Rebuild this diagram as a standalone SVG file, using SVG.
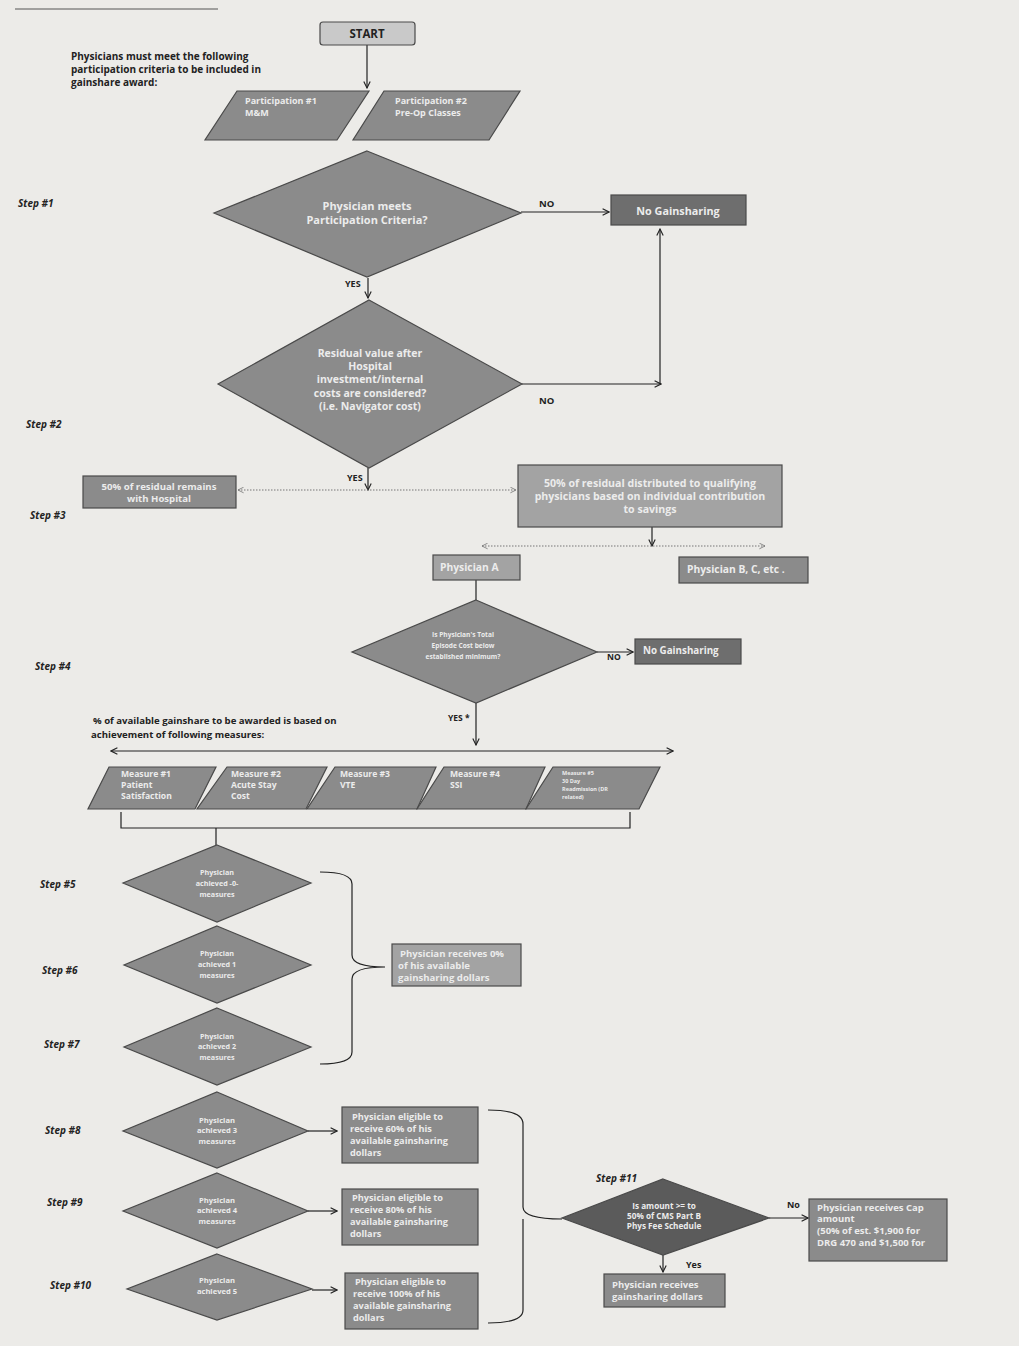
<svg xmlns="http://www.w3.org/2000/svg" width="1019" height="1346" viewBox="0 0 1019 1346">
<defs>
<style>
.bg{fill:#ecebe8}
.n{stroke:#4a4a4a;stroke-width:1.2}
.g1{fill:#8b8b8b}
.g2{fill:#a3a3a3}
.g3{fill:#6e6e6e}
.g4{fill:#5b5b5b}
.g5{fill:#c9c9c9}
.t{font-family:"Open Sans","Liberation Sans",sans-serif;font-weight:bold;fill:#ececec}
.tc{text-anchor:middle}
.lbl{font-family:"Open Sans","Liberation Sans",sans-serif;font-weight:bold;fill:#222}
.step{font-family:"Open Sans","Liberation Sans",sans-serif;font-weight:bold;font-style:italic;font-size:10px;fill:#222}
.c{fill:none;stroke:#222;stroke-width:1.2}
.d{fill:none;stroke:#777;stroke-width:1.2;stroke-dasharray:1.5 1.5}
</style>
<marker id="ah" viewBox="0 0 10 10" refX="9" refY="5" markerWidth="8" markerHeight="8" orient="auto-start-reverse" markerUnits="userSpaceOnUse">
<path d="M1,1 L9,5 L1,9" fill="none" stroke="#222" stroke-width="1.4"/>
</marker>
<marker id="ahs" viewBox="0 0 10 10" refX="9" refY="5" markerWidth="7" markerHeight="7" orient="auto-start-reverse" markerUnits="userSpaceOnUse">
<path d="M1,1 L9,5 L1,9" fill="none" stroke="#777" stroke-width="1.2"/>
</marker>
</defs>
<rect class="bg" x="0" y="0" width="1019" height="1346"/>
<line x1="15" y1="9" x2="218" y2="9" stroke="#555" stroke-width="1"/>

<g id="intro-text">
<text class="lbl" font-size="10" x="71" y="60">Physicians must meet the following</text>
<text class="lbl" font-size="10" x="71" y="73">participation criteria to be included in</text>
<text class="lbl" font-size="10" x="71" y="86">gainshare award:</text>
</g>
<g id="measures-text">
<text class="lbl" font-size="9.6" x="93" y="724">% of available gainshare to be awarded is based on</text>
<text class="lbl" font-size="9.6" x="91" y="738">achievement of following measures:</text>
</g>
<g id="steps">
<text class="step" x="18" y="207">Step #1</text>
<text class="step" x="26" y="428">Step #2</text>
<text class="step" x="30" y="519">Step #3</text>
<text class="step" x="35" y="670">Step #4</text>
<text class="step" x="40" y="888">Step #5</text>
<text class="step" x="42" y="974">Step #6</text>
<text class="step" x="44" y="1048">Step #7</text>
<text class="step" x="45" y="1134">Step #8</text>
<text class="step" x="47" y="1206">Step #9</text>
<text class="step" x="50" y="1289">Step #10</text>
<text class="step" x="596" y="1182">Step #11</text>
</g>

<g id="connectors">
<path class="c" d="M367,45 V88" marker-end="url(#ah)"/>
<path class="c" d="M521,212 H609" marker-end="url(#ah)"/>
<path class="c" d="M368,278 V298" marker-end="url(#ah)"/>
<path class="c" d="M522,384 H661" marker-end="url(#ah)"/>
<path class="c" d="M660,384 V229" marker-end="url(#ah)"/>
<path class="c" d="M368,468 V490" marker-end="url(#ah)"/>
<path class="d" d="M238,490 H516" marker-start="url(#ahs)" marker-end="url(#ahs)"/>
<path class="c" d="M652,527 V546" marker-end="url(#ah)"/>
<path class="d" d="M482,546 H765" marker-start="url(#ahs)" marker-end="url(#ahs)"/>
<path class="c" d="M476,580 V600"/>
<path class="c" d="M597,652 H633" marker-end="url(#ah)"/>
<path class="c" d="M476,703 V745" marker-end="url(#ah)"/>
<path class="c" d="M111,751 H673" marker-start="url(#ah)" marker-end="url(#ah)"/>
<path class="c" d="M121,812 V828 H630 V812 M216,828 V845"/>
<path class="c" d="M320,872 Q352,872 352,884 L352,955 Q352,967 385,967 Q352,967 352,979 L352,1052 Q352,1064 320,1064"/>
<path class="c" d="M308,1131 H337" marker-end="url(#ah)"/>
<path class="c" d="M308,1211 H337" marker-end="url(#ah)"/>
<path class="c" d="M312,1290 H337" marker-end="url(#ah)"/>
<path class="c" d="M488,1110 Q523,1110 523,1124 L523,1207 Q523,1219 562,1219 M523,1219 Q523,1219 523,1231 L523,1310 Q523,1323 488,1323"/>
<path class="c" d="M769,1218 H808" marker-end="url(#ah)"/>
<path class="c" d="M663,1255 V1272" marker-end="url(#ah)"/>
</g>
<g id="edge-labels">
<text class="lbl" font-size="9.5" x="539" y="207">NO</text>
<text class="lbl" font-size="9" x="345" y="287">YES</text>
<text class="lbl" font-size="9.5" x="539" y="404">NO</text>
<text class="lbl" font-size="9" x="347" y="481">YES</text>
<text class="lbl" font-size="8.5" x="607" y="660">NO</text>
<text class="lbl" font-size="8.5" x="448" y="721">YES *</text>
<text class="lbl" font-size="9" x="787" y="1208">No</text>
<text class="lbl" font-size="9" x="686" y="1268">Yes</text>
</g>

<g id="start">
<rect class="n g5" x="320" y="22" width="95" height="23" rx="3"/>
<text class="lbl tc" font-size="11.5" x="367" y="38" fill="#333">START</text>
</g>
<g id="participation1">
<polygon class="n g1" points="237,91 369,91 337,140 205,140"/>
<text class="t" font-size="9" x="245" y="104">Participation #1</text>
<text class="t" font-size="9" x="245" y="116">M&amp;M</text>
</g>
<g id="participation2">
<polygon class="n g1" points="384,91 520,91 489,140 353,140"/>
<text class="t" font-size="9" x="395" y="104">Participation #2</text>
<text class="t" font-size="9" x="395" y="116">Pre-Op Classes</text>
</g>
<g id="decision1">
<polygon class="n g1" points="367,151 521,213 367,277 214,213"/>
<text class="t tc" font-size="11" x="367" y="210">Physician meets</text>
<text class="t tc" font-size="11" x="367" y="224">Participation Criteria?</text>
</g>
<g id="nogain1">
<rect class="n g3" x="611" y="195" width="135" height="30"/>
<text class="t tc" font-size="10.8" x="678" y="215">No Gainsharing</text>
</g>
<g id="decision2">
<polygon class="n g1" points="369,300 522,384 369,468 218,384"/>
<text class="t tc" font-size="10.5" x="370" y="357">Residual value after</text>
<text class="t tc" font-size="10.5" x="370" y="370">Hospital</text>
<text class="t tc" font-size="10.5" x="370" y="383">investment/internal</text>
<text class="t tc" font-size="10.5" x="370" y="397">costs are considered?</text>
<text class="t tc" font-size="10.5" x="370" y="410">(i.e. Navigator cost)</text>
</g>
<g id="hospital50">
<rect class="n g1" x="83" y="476" width="153" height="32"/>
<text class="t tc" font-size="9.6" x="159" y="490">50% of residual remains</text>
<text class="t tc" font-size="9.6" x="159" y="502">with Hospital</text>
</g>
<g id="physicians50">
<rect class="n g2" x="518" y="465" width="264" height="62"/>
<text class="t tc" font-size="10.6" x="650" y="487">50% of residual distributed to qualifying</text>
<text class="t tc" font-size="10.6" x="650" y="500">physicians based on individual contribution</text>
<text class="t tc" font-size="10.6" x="650" y="513">to savings</text>
</g>
<g id="physicianA">
<rect class="n g2" x="433" y="555" width="87" height="25"/>
<text class="t" font-size="10.3" x="440" y="571">Physician A</text>
</g>
<g id="physicianB">
<rect class="n g1" x="679" y="557" width="129" height="26"/>
<text class="t" font-size="10.3" x="687" y="573">Physician B, C, etc .</text>
</g>
<g id="decision3">
<polygon class="n g1" points="476,600 597,652 476,703 352,652"/>
<text class="t tc" font-size="6.6" x="463" y="637">Is Physician's Total</text>
<text class="t tc" font-size="6.6" x="463" y="648">Episode Cost below</text>
<text class="t tc" font-size="6.6" x="463" y="659">established minimum?</text>
</g>
<g id="nogain2">
<rect class="n g3" x="635" y="639" width="106" height="25"/>
<text class="t" font-size="9.8" x="643" y="654">No Gainsharing</text>
</g>
<g id="measure1">
<polygon class="n g1" points="109,767 216,767 195,809 88,809"/>
<text class="t" font-size="8.6" x="121" y="777">Measure #1</text>
<text class="t" font-size="8.6" x="121" y="788">Patient</text>
<text class="t" font-size="8.6" x="121" y="799">Satisfaction</text>
</g>
<g id="measure2">
<polygon class="n g1" points="227,767 327,767 306,809 197,809"/>
<text class="t" font-size="8.6" x="231" y="777">Measure #2</text>
<text class="t" font-size="8.6" x="231" y="788">Acute Stay</text>
<text class="t" font-size="8.6" x="231" y="799">Cost</text>
</g>
<g id="measure3">
<polygon class="n g1" points="335,767 436,767 417,809 307,809"/>
<text class="t" font-size="8.6" x="340" y="777">Measure #3</text>
<text class="t" font-size="8.6" x="340" y="788">VTE</text>
</g>
<g id="measure4">
<polygon class="n g1" points="444,767 545,767 526,809 417,809"/>
<text class="t" font-size="8.6" x="450" y="777">Measure #4</text>
<text class="t" font-size="8.6" x="450" y="788">SSI</text>
</g>
<g id="measure5">
<polygon class="n g1" points="553,767 660,767 639,809 526,809"/>
<text class="t" font-size="5.5" x="562" y="775">Measure #5</text>
<text class="t" font-size="5.5" x="562" y="783">30 Day</text>
<text class="t" font-size="5.5" x="562" y="791">Readmission (DR</text>
<text class="t" font-size="5.5" x="562" y="799">related)</text>
</g>
<g id="achieved0">
<polygon class="n g1" points="217,845 311,883 217,922 123,883"/>
<text class="t tc" font-size="7.2" x="217" y="875">Physician</text>
<text class="t tc" font-size="7.2" x="217" y="886">achieved -0-</text>
<text class="t tc" font-size="7.2" x="217" y="897">measures</text>
</g>
<g id="achieved1">
<polygon class="n g1" points="217,926 311,965 217,1003 124,965"/>
<text class="t tc" font-size="7.2" x="217" y="956">Physician</text>
<text class="t tc" font-size="7.2" x="217" y="967">achieved 1</text>
<text class="t tc" font-size="7.2" x="217" y="978">measures</text>
</g>
<g id="achieved2">
<polygon class="n g1" points="217,1008 311,1047 217,1085 124,1047"/>
<text class="t tc" font-size="7.2" x="217" y="1039">Physician</text>
<text class="t tc" font-size="7.2" x="217" y="1049">achieved 2</text>
<text class="t tc" font-size="7.2" x="217" y="1060">measures</text>
</g>
<g id="receives0">
<rect class="n g2" x="392" y="944" width="129" height="42"/>
<text class="t" font-size="9.6" x="400" y="957">Physician receives 0%</text>
<text class="t" font-size="9.6" x="398" y="969">of his available</text>
<text class="t" font-size="9.6" x="398" y="981">gainsharing dollars</text>
</g>
<g id="achieved3">
<polygon class="n g1" points="217,1092 308,1131 217,1168 123,1131"/>
<text class="t tc" font-size="7.6" x="217" y="1123">Physician</text>
<text class="t tc" font-size="7.6" x="217" y="1133">achieved 3</text>
<text class="t tc" font-size="7.6" x="217" y="1144">measures</text>
</g>
<g id="eligible60">
<rect class="n g1" x="342" y="1107" width="136" height="56"/>
<text class="t" font-size="9.2" x="352" y="1120">Physician eligible to</text>
<text class="t" font-size="9.2" x="350" y="1132">receive 60% of his</text>
<text class="t" font-size="9.2" x="350" y="1144">available gainsharing</text>
<text class="t" font-size="9.2" x="350" y="1156">dollars</text>
</g>
<g id="achieved4">
<polygon class="n g1" points="217,1173 308,1211 217,1248 123,1211"/>
<text class="t tc" font-size="7.6" x="217" y="1203">Physician</text>
<text class="t tc" font-size="7.6" x="217" y="1213">achieved 4</text>
<text class="t tc" font-size="7.6" x="217" y="1224">measures</text>
</g>
<g id="eligible80">
<rect class="n g1" x="342" y="1189" width="136" height="56"/>
<text class="t" font-size="9.2" x="352" y="1201">Physician eligible to</text>
<text class="t" font-size="9.2" x="350" y="1213">receive 80% of his</text>
<text class="t" font-size="9.2" x="350" y="1225">available gainsharing</text>
<text class="t" font-size="9.2" x="350" y="1237">dollars</text>
</g>
<g id="achieved5">
<polygon class="n g1" points="217,1254 312,1289 217,1320 127,1289"/>
<text class="t tc" font-size="7.6" x="217" y="1283">Physician</text>
<text class="t tc" font-size="7.6" x="217" y="1294">achieved 5</text>
</g>
<g id="eligible100">
<rect class="n g1" x="345" y="1273" width="133" height="56"/>
<text class="t" font-size="9.2" x="355" y="1285">Physician eligible to</text>
<text class="t" font-size="9.2" x="353" y="1297">receive 100% of his</text>
<text class="t" font-size="9.2" x="353" y="1309">available gainsharing</text>
<text class="t" font-size="9.2" x="353" y="1321">dollars</text>
</g>
<g id="decision11">
<polygon class="n g4" points="663,1179 769,1218 663,1255 562,1218"/>
<text class="t tc" font-size="8.2" x="664" y="1209">Is amount &gt;= to</text>
<text class="t tc" font-size="8.2" x="664" y="1219">50% of CMS Part B</text>
<text class="t tc" font-size="8.2" x="664" y="1229">Phys Fee Schedule</text>
</g>
<g id="capamount">
<rect class="n g1" x="809" y="1199" width="138" height="62"/>
<text class="t" font-size="9.5" x="817" y="1211">Physician receives  Cap</text>
<text class="t" font-size="9.5" x="817" y="1222">amount</text>
<text class="t" font-size="9.5" x="817" y="1234">(50% of est. $1,900 for</text>
<text class="t" font-size="9.5" x="817" y="1246">DRG 470  and $1,500 for</text>
</g>
<g id="receivesdollars">
<rect class="n g1" x="604" y="1274" width="121" height="33"/>
<text class="t" font-size="9.5" x="612" y="1288">Physician receives</text>
<text class="t" font-size="9.5" x="612" y="1300">gainsharing dollars</text>
</g>
</svg>
